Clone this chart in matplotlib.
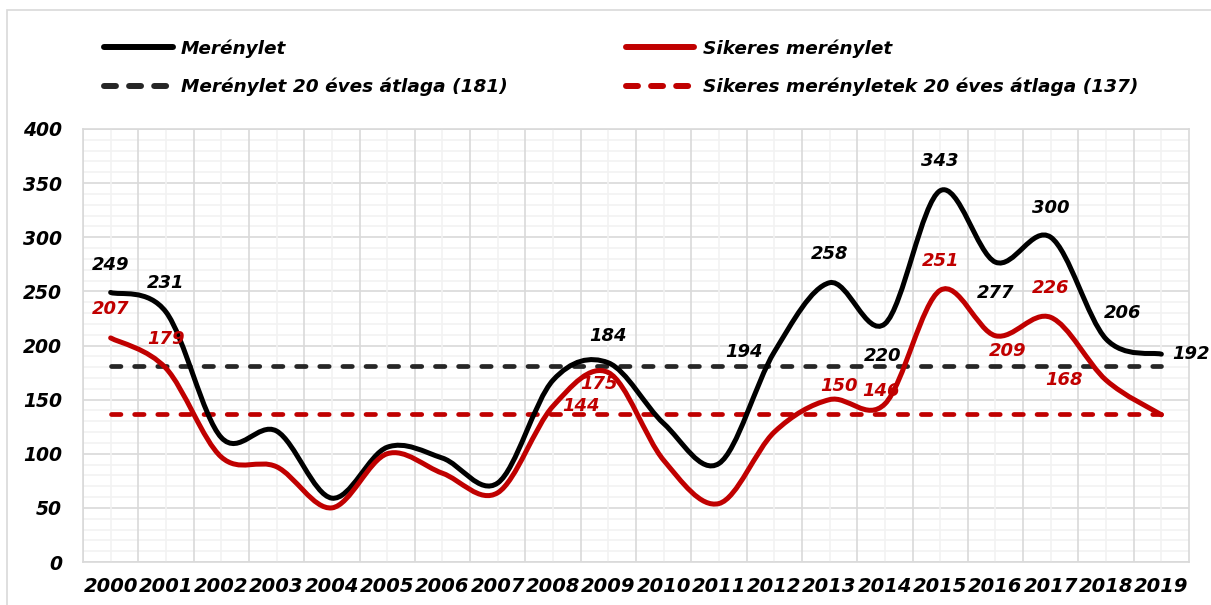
import matplotlib.pyplot as plt
import numpy as np
from matplotlib.path import Path
from matplotlib.patches import PathPatch, Rectangle
from matplotlib.lines import Line2D

#--data
years = [str(y) for y in range(2000, 2020)]
merenylet = [249, 231, 115, 121, 59, 106, 96, 73, 168, 184, 128, 91, 194, 258, 220, 343, 277, 300, 206, 192]
sikeres = [207, 179, 97, 88, 50, 100, 82, 64, 144, 175, 94, 54, 120, 150, 146, 251, 209, 226, 168, 136]
atlag_mer = 181
atlag_sik = 137
yticks = [0, 50, 100, 150, 200, 250, 300, 350, 400]

#--which points get a value label, with label offset (points)
lab_mer = {0: (0, 20), 1: (0, 21), 9: (0, 19.5), 12: (-22, 0), 13: (0, 21), 14: (-1.5, -23),
           15: (0, 21.5), 16: (0, -22), 17: (0, 21), 18: (12, 19), 19: (21, 0)}
lab_sik = {0: (0, 21), 1: (0, 21), 8: (20, 0), 9: (-7, -8), 13: (6.5, 9.5), 14: (-3, 9),
           15: (0, 21), 16: (9, -11), 17: (0, 21), 18: (-30, 0)}

black = '#000000'
red = '#C00000'
dgray = '#262626'
lw = 3.6


def smooth_path(y):
  #--excel-like smoothed line as cubic bezier segments
  pts = np.column_stack([np.arange(len(y)), y]).astype(float)
  n = len(pts)
  verts = [pts[0]] ; codes = [Path.MOVETO]
  for i in range(n - 1):
    p0 = pts[i - 1] if i > 0 else pts[i]
    p1 = pts[i] ; p2 = pts[i + 1]
    p3 = pts[i + 2] if i + 2 < n else pts[i + 1]
    verts += [p1 + (p2 - p0) / 6, p2 - (p3 - p1) / 6, p2]
    codes += [Path.CURVE4] * 3
  return Path(verts, codes)


plt.rcParams['font.family'] = 'DejaVu Sans'
fig = plt.figure(figsize=(12.11, 6.05), dpi=100)
ax = fig.add_axes([83 / 1211, 43 / 605, 1106 / 1211, 433 / 605])

#--outer chart border
fig.patches.append(Rectangle((7 / 1211, -0.05), 1.1, 595 / 605 + 0.05, transform=fig.transFigure,
                             fill=False, ec='#D9D9D9', lw=1.2))

#--grid
for v in range(0, 401, 10):
  major = v % 50 == 0
  ax.axhline(v, color='#D9D9D9' if major else '#F2F2F2', lw=1.2, zorder=0)
for i in range(len(years)):
  ax.axvline(i - 0.5, color='#D9D9D9', lw=1.2, zorder=0)
  ax.axvline(i, color='#F2F2F2', lw=1.2, zorder=0)

#--average lines
n = len(years)
dash = dict(lw=3.4, dashes=(2.0, 2.9), dash_capstyle='round')
ax.plot([0, n - 1], [atlag_mer, atlag_mer], color=dgray, zorder=2, **dash)
ax.plot([0, n - 1], [atlag_sik, atlag_sik], color=red, zorder=2, **dash)

#--smoothed series
ax.add_patch(PathPatch(smooth_path(merenylet), fill=False, ec=black, lw=lw, capstyle='round', zorder=3))
ax.add_patch(PathPatch(smooth_path(sikeres), fill=False, ec=red, lw=lw, capstyle='round', zorder=4))

#--value labels
for vals, labs, col in [(merenylet, lab_mer, black), (sikeres, lab_sik, red)]:
  for i, off in labs.items():
    ax.annotate(str(vals[i]), xy=(i, vals[i]), xytext=off, textcoords='offset points',
                ha='center', va='center', fontsize=13, fontweight='bold', fontstyle='italic',
                color=col, zorder=5)

ax.set_xlim(-0.5, n - 0.5)
ax.set_ylim(0, 400)
ax.set_xticks(range(n))
ax.set_xticklabels(years)
ax.set_yticks(yticks)
ax.tick_params(length=0)
ax.tick_params(axis='x', pad=11)
ax.tick_params(axis='y', pad=15)
for lab in ax.get_xticklabels():
  lab.set_fontsize(14)
  lab.set_fontweight('bold')
  lab.set_fontstyle('italic')
for lab in ax.get_yticklabels():
  lab.set_fontsize(13.5)
  lab.set_fontweight('bold')
  lab.set_fontstyle('italic')
for s in ax.spines.values():
  s.set_color('#D9D9D9')
  s.set_linewidth(1.2)

#--legend
handles = [Line2D([], [], color=black, lw=4.3, solid_capstyle='round'),
           Line2D([], [], color=dgray, lw=4.3, dashes=(2.0, 2.2), dash_capstyle='round'),
           Line2D([], [], color=red, lw=4.3, solid_capstyle='round'),
           Line2D([], [], color=red, lw=4.3, dashes=(2.0, 2.2), dash_capstyle='round')]
labels = ['Merénylet', 'Merénylet 20 éves átlaga (181)',
          'Sikeres merénylet', 'Sikeres merényletek 20 éves átlaga (137)']
leg = fig.legend(handles, labels, ncol=2, loc='upper left', bbox_to_anchor=(95 / 1211, 1 - 30 / 605),
                 frameon=False, borderpad=0, handlelength=3.7, handletextpad=0.45,
                 labelspacing=1.08, columnspacing=6.4,
                 prop=dict(size=13.3, weight='bold', style='italic'))

plt.savefig('out.png', dpi=100)
